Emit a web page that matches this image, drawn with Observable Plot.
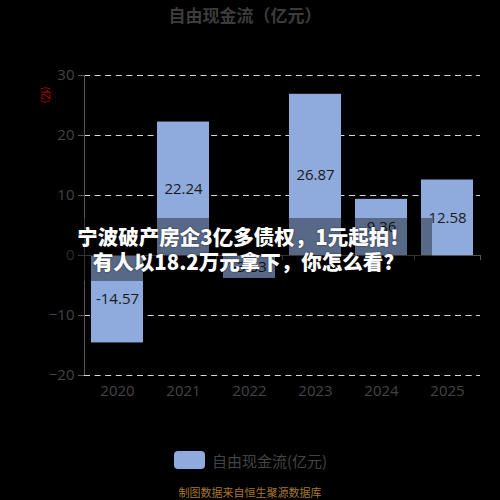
<!DOCTYPE html>
<html>
<head>
<meta charset="utf-8">
<script src="https://cdn.jsdelivr.net/npm/d3@7"></script>
<script src="https://cdn.jsdelivr.net/npm/@observablehq/plot@0.6"></script>
<style>
html,body{margin:0;padding:0;background:#000;}
#root{position:relative;width:500px;height:500px;background:#000;overflow:hidden;font-family:'Open Sans','Noto Sans CJK SC',sans-serif;}
#title{position:absolute;left:0;top:3px;width:490px;text-align:center;font-family:'Noto Sans CJK SC',sans-serif;font-weight:bold;font-size:17px;color:#3c3c3c;line-height:24px;}
#chart{position:absolute;left:0;top:30px;}
#unit{position:absolute;left:38px;top:89px;font-family:'Noto Sans CJK SC',sans-serif;font-size:10px;color:#d00000;transform:rotate(90deg);transform-origin:center;line-height:12px;}
#overlay{position:absolute;left:55px;top:218px;width:377px;height:63px;background:rgba(0,0,0,0.38);}
#overlay div{color:#fff;font-family:'Noto Sans CJK SC',sans-serif;font-weight:900;font-size:20.5px;text-align:center;line-height:25px;white-space:nowrap;text-shadow:0 0 2px rgba(0,0,0,0.6);}
#l1{margin-top:6px;}
#legend{position:absolute;left:174px;top:448px;height:24px;display:flex;align-items:center;}
#legend .sw{width:31px;height:18px;border-radius:4px;background:#8faadc;margin-right:7px;}
#legend .lb{font-family:'Noto Sans CJK SC',sans-serif;font-size:15px;color:#444;}
#caption{position:absolute;left:0;top:484px;width:500px;text-align:center;font-family:'Noto Sans CJK SC',sans-serif;font-size:11px;color:#a8782a;line-height:16px;}
</style>
</head>
<body>
<div id="root">
  <div id="title"></div>
  <div id="chart"></div>
  <div id="unit"></div>
  <div id="overlay"><div id="l1"></div><div id="l2"></div></div>
  <div id="legend"><div class="sw"></div><div class="lb"></div></div>
  <div id="caption"></div>
</div>
<script>
const titleText = "自由现金流（亿元）";
const unitText = "(亿)";
const seriesName = "自由现金流(亿元)";
const captionText = "制图数据来自恒生聚源数据库";
const overlayLines = ["宁波破产房企3亿多债权，1元起拍！", "有人以18.2万元拿下，你怎么看?"];
const years = ["2020", "2021", "2022", "2023", "2024", "2025"];
const values = [-14.57, 22.24, -3.83, 26.87, 9.36, 12.58];
const yTicks = [-20, -10, 0, 10, 20, 30];

document.getElementById("title").textContent = titleText;
document.getElementById("unit").textContent = unitText;
document.querySelector("#legend .lb").textContent = seriesName;
document.getElementById("caption").textContent = captionText;
document.getElementById("l1").textContent = overlayLines[0];
document.getElementById("l2").textContent = overlayLines[1];

const data = years.map((year, i) => ({year, value: values[i]}));

const chart = Plot.plot({
  width: 500,
  height: 385,
  marginTop: 45,
  marginBottom: 40,
  marginLeft: 84,
  marginRight: 20,
  style: {background: "transparent", color: "#444", fontFamily: "'Open Sans','Noto Sans CJK SC',sans-serif"},
  x: {domain: years, paddingInner: 0.21, paddingOuter: 0.105},
  y: {domain: [-20, 30]},
  marks: [
    Plot.ruleY(yTicks.filter(t => t !== 0), {stroke: "#d8d8d8", strokeDasharray: "6,4.6", strokeWidth: 1}),
    Plot.barY(data, {x: "year", y: "value", fill: "#8faadc"}),
    Plot.text(data, {x: "year", y: d => d.value / 2, text: d => d.value.toFixed(2), fill: "#1a1a1a", fontSize: 15}),
    Plot.ruleY([0], {stroke: "#555"}),
    Plot.ruleX(years, {x: d => d, dx: -33, y1: 0, y2: -0.85, stroke: "#555"}),
    Plot.ruleX([years[years.length - 1]], {x: d => d, dx: 33, y1: 0, y2: -0.85, stroke: "#555"}),
    Plot.ruleX([years[0]], {x: d => d, dx: -33, stroke: "#555"}),
    Plot.axisY({ticks: yTicks, tickSize: 6, tickPadding: 4, fontSize: 15, stroke: "#555", fill: "#444", label: null}),
    Plot.axisX({tickSize: 0, tickPadding: 10, fontSize: 15, fill: "#444", label: null})
  ]
});
document.getElementById("chart").appendChild(chart);
</script>
</body>
</html>
